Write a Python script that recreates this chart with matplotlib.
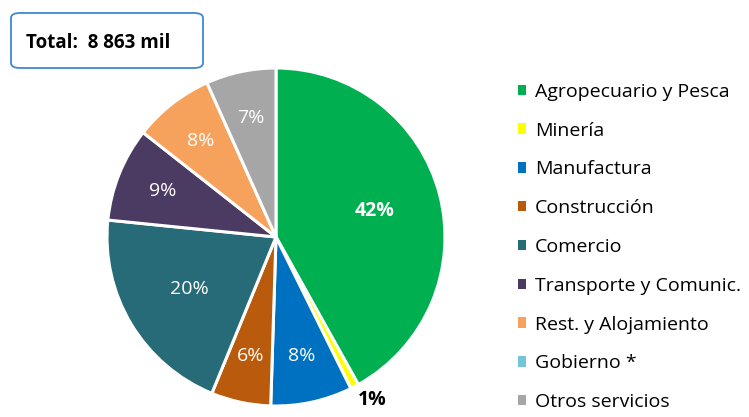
import numpy as np
import matplotlib; matplotlib.use("Agg")
import matplotlib.pyplot as plt
from matplotlib.patches import FancyBboxPatch, Patch

plt.rcParams["font.family"] = ["Open Sans", "DejaVu Sans"]

sectors = ["Agropecuario y Pesca", "Minería", "Manufactura", "Construcción", "Comercio",
           "Transporte y Comunic.", "Rest. y Alojamiento", "Gobierno *", "Otros servicios"]
shares = [41.9, 0.8, 7.8, 5.7, 20.4, 9.0, 7.7, 0.0, 6.7]
labels = ["42%", "1%", "8%", "6%", "20%", "9%", "8%", "", "7%"]
colors = ["#00B050", "#FFFF00", "#0070C0", "#B95A0C", "#276A78",
          "#4B3A62", "#F7A25C", "#74C5D8", "#A6A6A6"]
total_txt = "Total:  8 863 mil"

W, H = 749, 417
fig = plt.figure(figsize=(W / 100, H / 100), dpi=100)
cx, cy, r = 276, 237, 169
ax = fig.add_axes([(cx - r) / W, (H - cy - r) / H, 2 * r / W, 2 * r / H])

keep = [i for i, v in enumerate(shares) if v > 0]
wedges, _ = ax.pie([shares[i] for i in keep], colors=[colors[i] for i in keep],
                   startangle=90, counterclock=False, radius=1,
                   wedgeprops=dict(edgecolor="white", linewidth=2.2))
ax.set_xlim(-1, 1); ax.set_ylim(-1, 1); ax.axis("off")
for w, i in zip(wedges, keep):
    ang = np.deg2rad((w.theta1 + w.theta2) / 2)
    if shares[i] < 2:
        d, col, fw = 1.12, "black", "bold"
        ang += np.deg2rad(3)
    else:
        d = 0.6 if shares[i] > 15 else 0.72
        col, fw = "white", ("bold" if shares[i] > 30 else "normal")
    ax.text(d * np.cos(ang), d * np.sin(ang), labels[i], color=col, fontweight=fw,
            fontsize=14, ha="center", va="center", clip_on=False)

box = FancyBboxPatch((11 / W, 1 - 68 / H), 192 / W, 55 / H,
                     boxstyle="round,pad=0,rounding_size=0.012",
                     transform=fig.transFigure, facecolor="white",
                     edgecolor="#3F88CF", linewidth=1.3)
fig.patches.append(box)
fig.text(26 / W, 1 - 43 / H, total_txt, fontsize=13.5, fontweight="bold", va="center")

handles = [Patch(facecolor=c, edgecolor="none") for c in colors]
fig.legend(handles, sectors, loc="upper left", bbox_to_anchor=(508 / W, 1 - 73 / H),
           frameon=False, fontsize=14, handlelength=0.45, handleheight=0.45,
           handletextpad=0.45, labelspacing=1.07, borderpad=0)

fig.savefig("out.png", dpi=100)
